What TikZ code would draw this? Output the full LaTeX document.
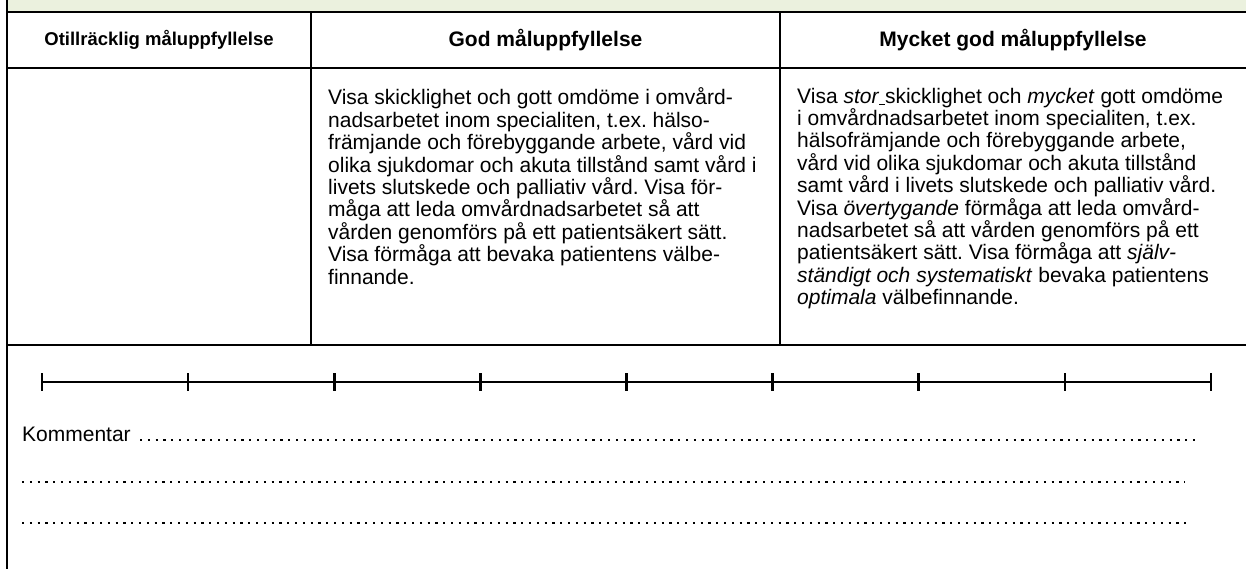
\documentclass[tikz,border=0pt]{standalone}
\usepackage{fontspec}
\setmainfont{Liberation Sans}
\definecolor{bandgreen}{RGB}{235,241,222}
\frenchspacing
\begin{document}
\begin{tikzpicture}[x=1pt, y=-1pt, line join=round, font=\fontsize{21}{22.4}\selectfont,
	rule/.style={line width=2pt},
	head/.style={font=\fontsize{21}{24}\selectfont\bfseries, inner sep=0pt},
	body/.style={anchor=north west, align=left, inner sep=0pt},
	leader/.style={line width=2.2pt, dash pattern=on 2.2pt off 5.6pt}]
	\useasboundingbox (0,0) rectangle (1246,569);
	\fill[bandgreen] (7,0) rectangle (1246,12);
	\draw[rule] (7,0) -- (7,569);
	\draw[rule] (7,12) -- (1246,12) (7,68) -- (1246,68) (7,345) -- (1246,345);
	\draw[rule] (311,12) -- (311,345) (780,12) -- (780,345);
	\node[head, font=\fontsize{18.5}{20}\selectfont\bfseries] (otill) at (159,40) {Otillräcklig måluppfyllelse};
	\node[head] (god) at (545.5,40) {God måluppfyllelse};
	\node[head] (mycket) at (1013,40) {Mycket god måluppfyllelse};
	\node[body] (godtext) at (328,87.7) {Visa skicklighet och gott omdöme i omvård-\\
		nadsarbetet inom specialiten, t.ex. hälso-\\
		främjande och förebyggande arbete, vård vid\\
		olika sjukdomar och akuta tillstånd samt vård i\\
		livets slutskede och palliativ vård. Visa för-\\
		måga att leda omvårdnadsarbetet så att\\
		vården genomförs på ett patientsäkert sätt.\\
		Visa förmåga att bevaka patientens välbe-\\
		finnande.};
	\node[body] (mycktext) at (797,87.7) {Visa \textit{stor}\underline{\ }skicklighet och \textit{mycket} gott omdöme\\
		i omvårdnadsarbetet inom specialiten, t.ex.\\
		hälsofrämjande och förebyggande arbete,\\
		vård vid olika sjukdomar och akuta tillstånd\\
		samt vård i livets slutskede och palliativ vård.\\
		Visa \textit{övertygande} förmåga att leda omvård-\\
		nadsarbetet så att vården genomförs på ett\\
		patientsäkert sätt. Visa förmåga att \textit{själv-}\\
		\textit{ständigt och systematiskt} bevaka patientens\\
		\textit{optimala} välbefinnande.};
	\foreach \i in {0,...,8}
	\draw[line width=2.6pt] ({42+146.125*\i},373) coordinate (t\i) -- ++(0,18);
	\draw[rule] (t0) ++(0,9) -- ([yshift=-9pt]t8);
	\node[anchor=base west, inner sep=0pt] (komm) at (22,441) {Kommentar};
	\draw[leader] (140,440) -- (1195,440);
	\draw[leader] (22,481.7) -- (1185,481.7);
	\draw[leader] (22,523) -- (1187,523);
\end{tikzpicture}
\end{document}
